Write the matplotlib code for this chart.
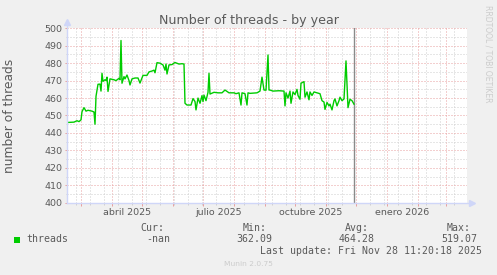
import matplotlib
matplotlib.use("Agg")
import matplotlib.pyplot as plt
import matplotlib.dates as mdates
from matplotlib.lines import Line2D
from matplotlib.patches import Rectangle
from matplotlib.ticker import NullFormatter, MultipleLocator, FixedLocator
import pandas as pd

plt.rcParams['lines.scale_dashes'] = False

# ---------------- data ----------------
title = "Number of threads - by year"
ylabel = "number of threads"
series_name = "threads"
data_start = "2025-02-14 16:00"
day_offsets = [0, 7, 10, 12, 14, 15, 17, 19, 21, 25,
               27, 28, 29, 31, 33, 34, 35, 36, 38, 39,
               40, 41, 43, 47, 49, 52, 53, 54, 55, 57,
               58, 60, 62, 63, 65, 68, 71, 73, 76, 80,
               82, 85, 87, 88, 90, 93, 96, 98, 99, 100,
               102, 105, 108, 112, 115, 117, 118, 120, 124, 126,
               128, 129, 131, 133, 135, 136, 137, 139, 141, 142,
               143, 147, 151, 155, 158, 162, 167, 169, 172, 174,
               175, 178, 180, 181, 183, 190, 193, 195, 197, 199,
               201, 202, 203, 206, 212, 217, 218, 219, 221, 223,
               224, 226, 228, 230, 231, 233, 234, 237, 238, 240,
               242, 243, 245, 247, 250, 253, 255, 257, 258, 260,
               262, 263, 265, 267, 268, 270, 272, 273, 275, 277,
               279, 281, 283, 285, 287]
threads = [446.0, 446.2, 447.0, 446.5, 447.5, 452.2, 454.5, 452.5, 453.0, 452.5,
           452.0, 445.0, 461.0, 467.9, 468.0, 464.0, 474.2, 469.6, 470.5, 470.0,
           472.0, 463.8, 471.0, 470.5, 470.0, 471.3, 470.5, 493.0, 468.5, 472.3,
           471.0, 473.2, 470.0, 467.5, 471.0, 471.5, 471.5, 468.6, 473.0, 473.0,
           475.0, 475.5, 476.0, 474.5, 480.3, 480.0, 479.0, 476.0, 479.5, 473.8,
           479.0, 479.2, 480.4, 479.5, 479.7, 479.5, 457.0, 456.0, 456.0, 459.7,
           458.0, 453.2, 460.0, 457.0, 461.4, 458.0, 461.7, 458.5, 463.3, 474.2,
           462.3, 463.3, 463.0, 463.0, 464.6, 463.0, 463.0, 462.5, 463.0, 456.0,
           463.0, 462.5, 456.0, 463.0, 462.7, 463.0, 464.0, 472.0, 464.6, 464.5,
           484.7, 464.6, 464.6, 464.0, 464.2, 464.0, 455.5, 463.0, 460.0, 464.0,
           457.0, 463.5, 462.0, 465.0, 461.5, 459.3, 468.5, 469.4, 460.5, 463.5,
           459.0, 463.5, 461.5, 463.5, 463.0, 462.5, 458.5, 457.7, 453.5, 457.5,
           455.5, 456.5, 453.2, 458.5, 459.5, 455.5, 458.5, 460.5, 458.5, 459.5,
           481.3, 454.5, 459.3, 458.5, 456.5]
view_start = "2025-02-14 16:00"
view_days = 400
now = "2025-11-28 11:20"
minor_grid_start = "2025-02-24"
month_label_dates = ["2025-04-16", "2025-07-16", "2025-10-16", "2026-01-16"]
month_labels = ["abril 2025", "julio 2025", "octubre 2025", "enero 2026"]
y_min, y_max = 400, 500
legend_headers = ["Cur:", "Min:", "Avg:", "Max:"]
legend_values = ["-nan", "362.09", "464.28", "519.07"]
last_update = "Last update: Fri Nov 28 11:20:18 2025"
footer = "Munin 2.0.75"
watermark = "RRDTOOL / TOBI OETIKER"

# ---------------- style ----------------
W, H = 497, 275
BG = '#F0F0F0'
FONT_C = '#5a5a5a'
MGRID = '#E8A0A0'
GRID = '#CFCFCF'
AXIS_C = '#CFD6F8'
LINE_C = '#00CC00'

def fx(px):
    return px / W

def fy(py):
    return 1 - py / H

fig = plt.figure(figsize=(W / 100, H / 100), dpi=100, facecolor=BG)
ax_left, ax_right, ax_top, ax_bottom = 67, 467, 28.3, 202.7
ax = fig.add_axes([fx(ax_left), fy(ax_bottom), (ax_right - ax_left) / W, (ax_bottom - ax_top) / H])
ax.set_facecolor('white')

x = pd.to_datetime(data_start) + pd.to_timedelta(day_offsets, unit='D')
ax.plot(x, threads, color=LINE_C, lw=1.0, zorder=5)

t0 = pd.Timestamp(view_start)
ax.set_xlim(t0, t0 + pd.Timedelta(days=view_days))
ax.set_ylim(y_min, y_max)

# grids
ax.xaxis.set_major_locator(mdates.MonthLocator())
ax.xaxis.set_major_formatter(NullFormatter())
minor_dates = pd.date_range(minor_grid_start, t0 + pd.Timedelta(days=view_days), freq='14D')
ax.xaxis.set_minor_locator(FixedLocator(mdates.date2num(minor_dates)))
ax.xaxis.set_minor_formatter(NullFormatter())
ax.yaxis.set_major_locator(MultipleLocator(10))
ax.yaxis.set_minor_locator(MultipleLocator(5))

dots = (0, (0.72, 1.44))
ax.grid(which='minor', color=GRID, linestyle=dots, linewidth=0.72, zorder=1)
ax.grid(which='major', color=MGRID, linestyle=dots, linewidth=0.72, zorder=2)
ax.set_axisbelow(True)

for s in ax.spines.values():
    s.set_visible(False)

ax.tick_params(axis='x', which='major', direction='out', length=2.5, width=0.72, color=MGRID)
ax.tick_params(axis='x', which='minor', direction='out', length=1.5, width=0.72, color=GRID)
ax.tick_params(axis='y', which='major', direction='out', length=1.5, width=0.72, color=MGRID,
               labelsize=6.8, labelcolor=FONT_C, pad=1.6)
ax.tick_params(axis='y', which='minor', direction='out', length=1.0, width=0.72, color=GRID)

# month labels
for d, lab in zip(month_label_dates, month_labels):
    ax.text(pd.Timestamp(d), -0.056, lab, transform=ax.get_xaxis_transform(),
            ha='center', va='center', fontsize=6.8, color=FONT_C)

# now line
ax.axvline(pd.Timestamp(now), color='#8a8a8a', lw=1.0, zorder=4)

# axis lines with arrows
ax.add_artist(Line2D([0, 1.015], [0, 0], transform=ax.transAxes, color=AXIS_C, lw=1.0,
                     clip_on=False, zorder=6))
ax.add_artist(Line2D([1.012], [0], transform=ax.transAxes, color=AXIS_C, marker='>',
                     markersize=4.5, clip_on=False, zorder=6, linestyle='none'))
ax.add_artist(Line2D([0, 0], [0, 1.04], transform=ax.transAxes, color=AXIS_C, lw=1.0,
                     clip_on=False, zorder=6))
ax.add_artist(Line2D([0], [1.035], transform=ax.transAxes, color=AXIS_C, marker='^',
                     markersize=4.5, clip_on=False, zorder=6, linestyle='none'))

# title and labels
fig.text(fx(248.8), fy(24.2), title, ha='center', va='baseline', fontsize=9.1, color=FONT_C)
fig.text(fx(10), fy(115.5), ylabel, rotation=90, ha='center', va='center', fontsize=8.8, color=FONT_C)
fig.text(fx(488.3), fy(53.3), watermark, rotation=-90, ha='center', va='center', fontsize=5.5,
         color='#CCCCCC')

# legend
mono = 'DejaVu Sans Mono'
fig.patches.append(Rectangle((fx(14), fy(242.5)), 6 / W, 6 / H, transform=fig.transFigure,
                             facecolor=LINE_C, edgecolor='none'))
fig.text(fx(26.7), fy(239.5), series_name, family=mono, fontsize=7.1, color=FONT_C, va='center')
header_x = [140.7, 242.3, 345.0, 446.7]
value_x = [146.7, 236.7, 339.0, 441.0]
for hx, h in zip(header_x, legend_headers):
    fig.text(fx(hx), fy(228), h, family=mono, fontsize=7.1, color=FONT_C, va='center')
for vx, v in zip(value_x, legend_values):
    fig.text(fx(vx), fy(239.5), v, family=mono, fontsize=7.1, color=FONT_C, va='center')
fig.text(fx(482.3), fy(251), last_update, family=mono, fontsize=7.1, color=FONT_C,
         va='center', ha='right')
fig.text(fx(248), fy(264), footer, fontsize=5.4, color='#CCCCCC', ha='center', va='center')

fig.savefig('out.png', dpi=100, facecolor=BG)
